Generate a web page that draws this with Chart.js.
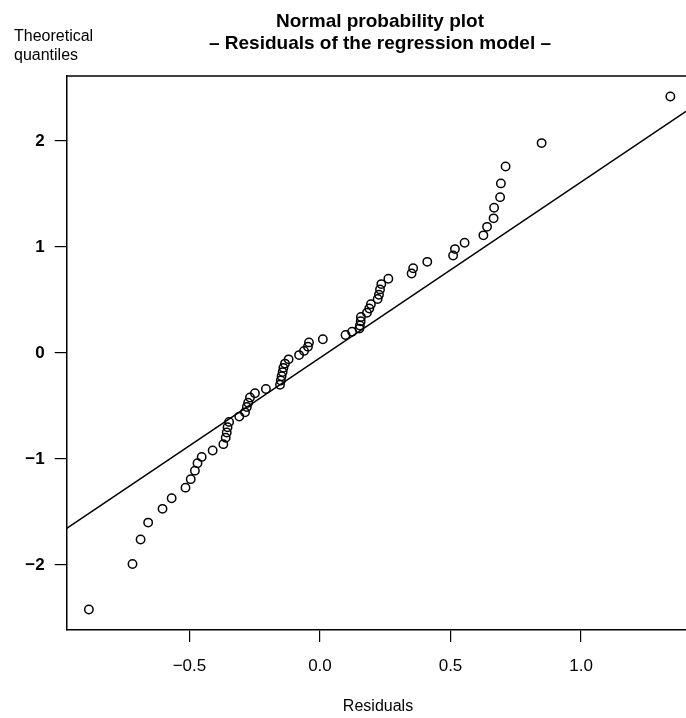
<!DOCTYPE html>
<html>
<head>
<meta charset="utf-8">
<title>Normal probability plot</title>
<script src="https://cdn.jsdelivr.net/npm/chart.js@4.4.0/dist/chart.umd.min.js"></script>
<style>
    html, body { margin: 0; padding: 0; background: #fff; overflow: hidden; }
    #wrap { width: 686px; height: 718px; }
</style>
</head>
<body>
<div id="wrap"><canvas id="qqChart" width="686" height="718"></canvas></div>
<script>
        // Residuals of the model (sorted) and their theoretical normal quantiles
        const residuals = [
            -0.885, -0.718, -0.687, -0.658, -0.603, -0.568, -0.515, -0.495, -0.479, -0.469,
            -0.453, -0.411, -0.370, -0.361, -0.357, -0.354, -0.348, -0.309, -0.287, -0.280,
            -0.275, -0.268, -0.249, -0.207, -0.153, -0.150, -0.147, -0.143, -0.140, -0.134,
            -0.120, -0.080, -0.061, -0.046, -0.042, 0.011, 0.098, 0.123, 0.151, 0.153,
            0.156, 0.157, 0.180, 0.189, 0.195, 0.221, 0.226, 0.230, 0.235, 0.262,
            0.351, 0.357, 0.411, 0.510, 0.517, 0.554, 0.626, 0.640, 0.665, 0.667,
            0.690, 0.693, 0.711, 0.849, 1.342
        ];
        const quantiles = [
            -2.42, -1.99, -1.76, -1.60, -1.47, -1.37, -1.27, -1.19, -1.11, -1.04,
            -0.98, -0.92, -0.86, -0.80, -0.75, -0.70, -0.65, -0.60, -0.56, -0.51,
            -0.47, -0.42, -0.38, -0.34, -0.30, -0.26, -0.22, -0.18, -0.14, -0.10,
            -0.06, -0.02, 0.02, 0.06, 0.10, 0.13, 0.17, 0.20, 0.23, 0.26,
            0.30, 0.34, 0.38, 0.42, 0.46, 0.51, 0.55, 0.60, 0.65, 0.70,
            0.75, 0.80, 0.86, 0.92, 0.98, 1.04, 1.11, 1.19, 1.27, 1.37,
            1.47, 1.60, 1.76, 1.98, 2.42
        ];

        // Reference line through the quartiles
        const lineIntercept = -0.045;
        const lineSlope = 1.658;

        // Axis ranges and tick labels
        const xRange = [-0.97, 1.402];
        const yRange = [-2.613, 2.613];
        const xTicks = [-0.5, 0.0, 0.5, 1.0];
        const yTicks = [-2, -1, 0, 1, 2];

        const FONT = '"Liberation Sans", Arial, Helvetica, sans-serif';

        const points = residuals.map((r, i) => ({ x: r, y: quantiles[i] }));
        const refLine = xRange.map(x => ({ x: x, y: lineIntercept + lineSlope * x }));

        const minusSign = s => s.replace('-', '\u2212');

        // Titles, axis captions and the top edge of the frame
        const textPlugin = {
            id: 'plotText',
            afterDraw(chart) {
                const ctx = chart.ctx;
                const area = chart.chartArea;
                ctx.save();
                ctx.strokeStyle = '#000';
                ctx.lineWidth = 1.5;
                ctx.beginPath();
                ctx.moveTo(area.left, area.top);
                ctx.lineTo(area.right, area.top);
                ctx.stroke();

                ctx.fillStyle = '#000';
                ctx.textBaseline = 'middle';
                ctx.textAlign = 'center';
                ctx.font = 'bold 19px ' + FONT;
                ctx.fillText('Normal probability plot', 380, 22);
                ctx.fillText('\u2013 Residuals of the regression model \u2013', 380, 44);

                ctx.textAlign = 'left';
                ctx.font = '16px ' + FONT;
                ctx.fillText('Theoretical', 14, 37);
                ctx.fillText('quantiles', 14, 56);

                ctx.textAlign = 'center';
                ctx.fillText('Residuals', 378, 707);
                ctx.restore();
            }
        };

        document.addEventListener('DOMContentLoaded', function() {
            const ctx = document.getElementById('qqChart').getContext('2d');
            const qqChart = new Chart(ctx, {
                type: 'scatter',
                data: {
                    datasets: [{
                        label: 'Residuals',
                        data: points,
                        backgroundColor: 'rgba(0, 0, 0, 0)',
                        borderColor: '#000',
                        pointRadius: 4.2,
                        pointBorderWidth: 1.5,
                        pointHoverRadius: 4.2
                    }, {
                        type: 'line',
                        label: 'Reference line',
                        data: refLine,
                        borderColor: '#000',
                        borderWidth: 1.5,
                        pointRadius: 0,
                        fill: false,
                        tension: 0
                    }]
                },
                options: {
                    responsive: false,
                    animation: false,
                    devicePixelRatio: 1,
                    layout: {
                        autoPadding: false,
                        padding: { top: 76, right: 0, bottom: 0, left: 0 }
                    },
                    plugins: {
                        legend: { display: false },
                        title: { display: false },
                        tooltip: { enabled: false }
                    },
                    scales: {
                        x: {
                            type: 'linear',
                            position: 'bottom',
                            min: xRange[0],
                            max: xRange[1],
                            afterBuildTicks: scale => {
                                scale.ticks = xTicks.map(v => ({ value: v }));
                            },
                            afterFit: scale => { scale.height = 88; },
                            border: { display: true, color: '#000', width: 1.5 },
                            grid: {
                                display: true,
                                drawOnChartArea: false,
                                drawTicks: true,
                                tickLength: 12,
                                color: '#000',
                                lineWidth: 1.2
                            },
                            ticks: {
                                color: '#000',
                                padding: 14,
                                maxRotation: 0,
                                font: { family: FONT, size: 17 },
                                callback: v => minusSign(Number(v).toFixed(1))
                            }
                        },
                        y: {
                            type: 'linear',
                            position: 'left',
                            min: yRange[0],
                            max: yRange[1],
                            afterBuildTicks: scale => {
                                scale.ticks = yTicks.map(v => ({ value: v }));
                            },
                            afterFit: scale => { scale.width = 66.7; },
                            border: { display: true, color: '#000', width: 1.5 },
                            grid: {
                                display: true,
                                drawOnChartArea: false,
                                drawTicks: true,
                                tickLength: 12,
                                color: '#000',
                                lineWidth: 1.2
                            },
                            ticks: {
                                color: '#000',
                                padding: 10,
                                font: { family: FONT, size: 17, weight: 'bold' },
                                callback: v => minusSign(String(v))
                            }
                        }
                    }
                },
                plugins: [textPlugin]
            });
        });
</script>
</body>
</html>
